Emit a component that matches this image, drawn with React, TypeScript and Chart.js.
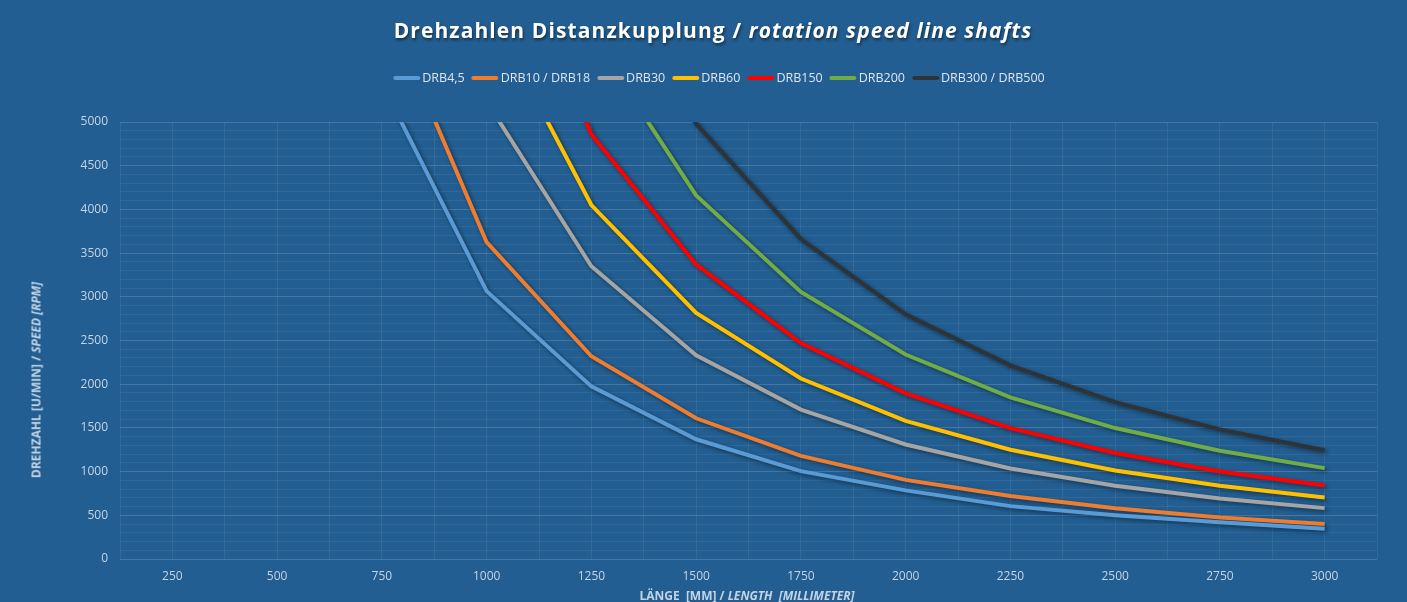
import React, { useEffect, useRef } from "react";
import { Chart, registerables } from "chart.js";

Chart.register(...registerables);

const lengths = [750, 1000, 1250, 1500, 1750, 2000, 2250, 2500, 2750, 3000];
const drb45 = [5440, 3065, 1975, 1370, 1005, 785, 605, 500, 420, 345];
const drb10 = [6440, 3625, 2320, 1610, 1180, 905, 720, 580, 475, 400];
const drb30 = [9300, 5235, 3350, 2330, 1710, 1310, 1035, 838, 693, 582];
const drb60 = [11200, 6330, 4050, 2815, 2065, 1580, 1250, 1012, 837, 703];
const drb150 = [13800, 7760, 4860, 3370, 2470, 1895, 1497, 1213, 1002, 842];
const drb200 = [16600, 9360, 5990, 4160, 3056, 2340, 1849, 1498, 1238, 1040];
const drb300 = [19900, 11200, 7170, 4980, 3660, 2800, 2215, 1795, 1483, 1245];

const seriesNames = ["DRB4,5", "DRB10 / DRB18", "DRB30", "DRB60", "DRB150", "DRB200", "DRB300 / DRB500"];
const seriesValues = [drb45, drb10, drb30, drb60, drb150, drb200, drb300];
const seriesColors = ["#5B9BD5", "#ED7D31", "#A5A5A5", "#FFC000", "#FF0000", "#70AD47", "#2E3338"];

const BG = "#225E91";
const LABEL = "#C3D4E6";
const FONT = "'Open Sans', 'DejaVu Sans', sans-serif";

const shadowPlugin = {
  id: "lineShadow",
  beforeDatasetDraw(chart: any) {
    const ctx = chart.ctx;
    ctx.save();
    ctx.shadowColor = "rgba(0,0,0,0.45)";
    ctx.shadowBlur = 4;
    ctx.shadowOffsetX = 2;
    ctx.shadowOffsetY = 2;
  },
  afterDatasetDraw(chart: any) {
    chart.ctx.restore();
  },
};

export default function App() {
  const ref = useRef<HTMLCanvasElement | null>(null);

  useEffect(() => {
    if (!ref.current) return;
    const chart = new Chart(ref.current, {
      type: "line",
      data: {
        datasets: seriesNames.map((name, i) => ({
          label: name,
          data: lengths.map((x, j) => ({ x, y: seriesValues[i][j] })),
          borderColor: seriesColors[i],
          backgroundColor: seriesColors[i],
          borderWidth: 4,
          pointRadius: 0,
          tension: 0,
          clip: 0,
        })),
      },
      plugins: [shadowPlugin],
      options: {
        animation: false,
        responsive: false,
        devicePixelRatio: 1,
        layout: { padding: { top: 122, right: 30, left: 0, bottom: 0 } },
        plugins: {
          legend: { display: false },
          title: { display: false },
          tooltip: { enabled: false },
        },
        scales: {
          x: {
            type: "linear",
            min: 125,
            max: 3125,
            afterFit: (s: any) => {
              s.height = 43;
            },
            border: { display: false },
            grid: {
              color: "rgba(255,255,255,0.07)",
              drawTicks: false,
            },
            ticks: {
              stepSize: 125,
              autoSkip: false,
              maxRotation: 0,
              padding: 10,
              color: LABEL,
              font: { family: FONT, size: 12 },
              callback: (v: any) => (v % 250 === 0 ? String(v) : ""),
            },
          },
          y: {
            min: 0,
            max: 5000,
            afterFit: (s: any) => {
              s.width = 120;
            },
            border: { display: false },
            grid: {
              color: (c: any) =>
                c.tick && c.tick.value % 500 === 0 ? "rgba(255,255,255,0.16)" : "rgba(255,255,255,0.06)",
              drawTicks: false,
            },
            ticks: {
              stepSize: 100,
              autoSkip: false,
              padding: 12,
              color: LABEL,
              font: { family: FONT, size: 12 },
              callback: (v: any) => (v % 500 === 0 ? String(v) : ""),
            },
          },
        },
      },
    } as any);
    return () => chart.destroy();
  }, []);

  return (
    <div
      style={{
        position: "fixed",
        left: 0,
        top: 0,
        width: 1407,
        height: 602,
        background: BG,
        overflow: "hidden",
        fontFamily: FONT,
      }}
    >
      <canvas ref={ref} width={1407} height={602} style={{ position: "absolute", left: 0, top: 0 }} />
      <div
        style={{
          position: "absolute",
          left: 713,
          top: 16,
          transform: "translateX(-50%)",
          color: "#FFFFFF",
          fontSize: 21,
          fontWeight: 700,
          letterSpacing: 1.1,
          textShadow: "1px 2px 3px rgba(0,0,0,0.5)",
          whiteSpace: "nowrap",
        }}
      >
        Drehzahlen Distanzkupplung / <i>rotation speed line shafts</i>
      </div>
      <div
        style={{
          position: "absolute",
          left: 719,
          top: 69,
          transform: "translateX(-50%)",
          display: "flex",
          alignItems: "center",
          gap: 7,
          color: "#DCE6F2",
          fontSize: 12.5,
          whiteSpace: "nowrap",
        }}
      >
        {seriesNames.map((n, i) => (
          <div key={n} style={{ display: "flex", alignItems: "center" }}>
            <span
              style={{
                display: "inline-block",
                width: 27,
                height: 4,
                background: seriesColors[i],
                borderRadius: 2,
                marginRight: 2,
              }}
            />
            <span>{n}</span>
          </div>
        ))}
      </div>
      <div
        style={{
          position: "absolute",
          left: 36,
          top: 380,
          transform: "translate(-50%, -50%) rotate(-90deg)",
          color: LABEL,
          fontSize: 12,
          fontWeight: 700,
          whiteSpace: "nowrap",
        }}
      >
        DREHZAHL [U/MIN] / <i>SPEED [RPM]</i>
      </div>
      <div
        style={{
          position: "absolute",
          left: 747,
          top: 595,
          transform: "translate(-50%, -50%)",
          color: LABEL,
          fontSize: 12,
          fontWeight: 700,
          whiteSpace: "pre",
        }}
      >
        LÄNGE  [MM] / <i>LENGTH  [MILLIMETER]</i>
      </div>
    </div>
  );
}
